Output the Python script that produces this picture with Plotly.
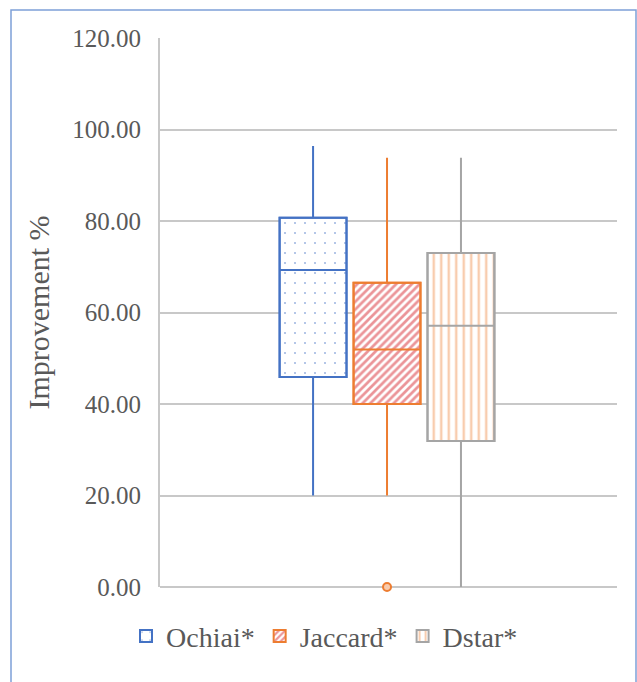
import plotly.graph_objects as go

# ---- data ----
series = ["Ochiai*", "Jaccard*", "Dstar*"]
upper = [96.4, 93.8, 93.8]
q3 = [80.7, 66.5, 73.0]
median = [69.3, 51.9, 57.1]
q1 = [45.9, 40.0, 31.9]
lower = [20.0, 20.0, 0.0]
outliers = [[], [0.0], []]
y_ticks = [0, 20, 40, 60, 80, 100, 120]

# ---- styles ----
positions = [-1.0, 0.0, 1.0]
box_w = 0.905
line_colors = ["#4472C4", "#ED7D31", "#A5A5A5"]
pat_shapes = [".", "/", "|"]
pat_colors = ["#4472C4", "#D82A32", "#F29A5E"]
pat_sizes = [10, 5.5, 7.5]
pat_solid = [0.035, 0.5, 0.33]

fig = go.Figure()
for i, name in enumerate(series):
    fig.add_trace(go.Bar(
        x=[positions[i]], base=[q1[i]], y=[q3[i] - q1[i]], width=box_w,
        name=name, showlegend=True,
        marker=dict(color="white",
                    line=dict(color=line_colors[i], width=2),
                    pattern=dict(shape=pat_shapes[i], fgcolor=pat_colors[i],
                                 bgcolor="white", size=pat_sizes[i],
                                 solidity=pat_solid[i], fillmode="overlay")),
        hoverinfo="skip",
    ))
for i, name in enumerate(series):
    fig.add_trace(go.Box(
        x=[positions[i]], q1=[q1[i]], median=[median[i]], q3=[q3[i]],
        lowerfence=[lower[i]], upperfence=[upper[i]], width=box_w,
        whiskerwidth=0,
        line=dict(color=line_colors[i], width=2),
        fillcolor="rgba(0,0,0,0)", showlegend=False, name=name,
        boxpoints=False,
    ))
    if outliers[i]:
        fig.add_trace(go.Scatter(
            x=[positions[i]] * len(outliers[i]), y=outliers[i], mode="markers",
            marker=dict(symbol="circle", size=8, color="#F8CBAD",
                        line=dict(color="#ED7D31", width=2)),
            showlegend=False, hoverinfo="skip", cliponaxis=False,
        ))

font_color = "#595959"
fig.update_layout(
    width=637, height=682,
    margin=dict(l=160, r=20, t=38, b=95),
    paper_bgcolor="white", plot_bgcolor="white",
    barmode="overlay",
    font=dict(family="Liberation Serif, Times New Roman, serif", color=font_color, size=25),
    xaxis=dict(range=[-3.07, 3.11], showticklabels=False, showgrid=False,
               zeroline=False, showline=False, fixedrange=True),
    yaxis=dict(range=[0, 120], tickvals=y_ticks, tickformat=".2f",
               showgrid=True, gridcolor="#C8C8C8", gridwidth=2,
               showline=True, linecolor="#C8C8C8", linewidth=2,
               zeroline=True, zerolinecolor="#C8C8C8", zerolinewidth=2,
               ticks="", ticklabelstandoff=12,
               tickfont=dict(size=25, color=font_color),
               title=dict(text="Improvement %", font=dict(size=30, color=font_color),
                          standoff=14)),
    legend=dict(orientation="h", x=0.36, xanchor="center", y=-0.09, yanchor="middle",
                font=dict(size=28, color=font_color), itemwidth=30,
                traceorder="normal"),
    shapes=[dict(type="rect", xref="paper", yref="paper",
                 x0=(11 - 160) / 457, x1=(636 - 160) / 457,
                 y0=(587 - 720) / 549, y1=(587 - 10) / 549,
                 line=dict(color="#7EA0D8", width=1.5), layer="below")],
)

fig.write_html("out.html", config={"displayModeBar": False},
               post_script="document.body.style.margin='0px';document.body.style.overflow='hidden';")
